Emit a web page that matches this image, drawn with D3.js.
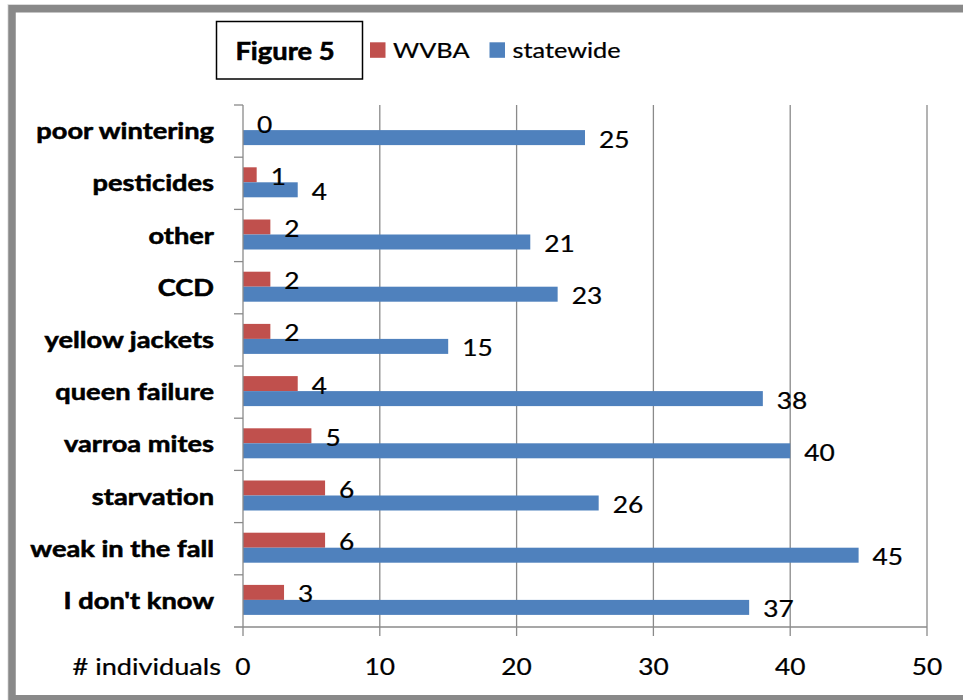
<!DOCTYPE html>
<html><head><meta charset="utf-8">
<script src="https://cdn.jsdelivr.net/npm/d3@7"></script>
<style>html,body{margin:0;padding:0;background:#fff;} svg{display:block;}</style>
</head><body><svg id="c" width="963" height="700"></svg>
<script>
// ---- data ----
const categories = ["poor wintering","pesticides","other","CCD","yellow jackets","queen failure","varroa mites","starvation","weak in the fall","I don't know"];
const wvba = [0,1,2,2,2,4,5,6,6,3];
const statewide = [25,4,21,23,15,38,40,26,45,37];
const seriesNames = ["WVBA","statewide"];
const seriesColors = ["#C0504D","#4F81BD"];
const xTicks = [0,10,20,30,40,50];
const axisTitle = "# individuals";
const figureTitle = "Figure 5";

// ---- layout ----
const FONT = "Lato, 'Open Sans', sans-serif";
const svg = d3.select("#c");
const W = 963, H = 700;
const plot = {left:243, right:927, top:105, bottom:627};

function txt(g, x, y, s, opts) {
  const bold = opts.weight === "bold";
  return g.append("text")
    .attr("transform", `translate(${x},${y}) scale(${opts.sx || 1},1)`)
    .attr("font-family", FONT)
    .attr("font-size", opts.size)
    .attr("font-weight", opts.weight || "normal")
    .attr("text-anchor", opts.anchor || "start")
    .attr("fill", "#000")
    .attr("stroke", "#000")
    .attr("stroke-width", bold ? 0.55 : 0.25)
    .text(s);
}

svg.append("rect").attr("width", W).attr("height", H).attr("fill", "#fff");
// frame
svg.append("rect").attr("x", 8).attr("y", 4.5).attr("width", 980).attr("height", 720)
  .attr("fill", "none").attr("stroke", "#dcdcdc").attr("stroke-width", 1);
svg.append("rect").attr("x", 12).attr("y", 8.75).attr("width", 970).attr("height", 690)
  .attr("fill", "none").attr("stroke", "#898989").attr("stroke-width", 7.5);

const x = d3.scaleLinear().domain([0, 50]).range([plot.left, plot.right]);
const y = d3.scaleBand().domain(categories).range([plot.top, plot.bottom]).padding(0);
const barH = 15;
const sub = d3.scaleBand().domain(seriesNames)
  .range([y.bandwidth()/2 - barH - 1, y.bandwidth()/2 + barH - 1]).padding(0);

// gridlines
svg.append("g").selectAll("line").data(xTicks.slice(1)).join("line")
  .attr("x1", d => x(d)).attr("x2", d => x(d))
  .attr("y1", plot.top).attr("y2", plot.bottom + 9)
  .attr("stroke", "#8a8a8a").attr("stroke-width", 1.3);

// bars
const seriesData = [wvba, statewide];
seriesNames.forEach((s, si) => {
  svg.append("g").selectAll("rect").data(categories).join("rect")
    .attr("x", x(0))
    .attr("y", c => y(c) + sub(s))
    .attr("width", (c, i) => x(seriesData[si][i]) - x(0))
    .attr("height", sub.bandwidth())
    .attr("fill", seriesColors[si]);
});

// axes
const ax = svg.append("g");
ax.append("line").attr("x1", x(0)).attr("x2", x(0)).attr("y1", plot.top).attr("y2", plot.bottom + 9)
  .attr("stroke", "#8a8a8a").attr("stroke-width", 1.3);
ax.append("line").attr("x1", x(0) - 9).attr("x2", plot.right).attr("y1", plot.bottom).attr("y2", plot.bottom)
  .attr("stroke", "#8a8a8a").attr("stroke-width", 1.3);
const yBounds = categories.map(c => y(c));
ax.selectAll("line.yt").data(yBounds).join("line").attr("class", "yt")
  .attr("x1", x(0) - 9).attr("x2", x(0)).attr("y1", d => d).attr("y2", d => d)
  .attr("stroke", "#8a8a8a").attr("stroke-width", 1.3);

// data labels (on top of all bars)
const lbl = svg.append("g");
seriesNames.forEach((s, si) => {
  categories.forEach((c, i) => {
    txt(lbl, x(seriesData[si][i]) + 14, y(c) + sub(s) + sub.bandwidth()/2 + 10,
      String(seriesData[si][i]), {size: 23.5, sx: 1.12});
  });
});

// x tick labels
xTicks.forEach(t => txt(ax, x(t), 675, String(t), {size: 23.5, anchor: "middle", sx: 1.12}));
txt(ax, 221, 675, axisTitle, {size: 23, anchor: "end", sx: 1.18});

// category labels
categories.forEach(c => txt(ax, 214, y(c) + y.bandwidth()/2 + 8, c, {size: 22.5, weight: "bold", anchor: "end", sx: 1.21}));

// legend
const lg = svg.append("g");
lg.append("rect").attr("x", 216.5).attr("y", 21.5).attr("width", 146).attr("height", 57.5)
  .attr("fill", "#fff").attr("stroke", "#000").attr("stroke-width", 1.5);
txt(lg, 285, 60, figureTitle, {size: 24, weight: "bold", anchor: "middle", sx: 1.14});
const legX = [370, 489.5];
seriesNames.forEach((s, i) => {
  lg.append("rect").attr("x", legX[i]).attr("y", 42.3).attr("width", 15.5).attr("height", 15.5).attr("fill", seriesColors[i]);
  txt(lg, legX[i] + 23, 57.7, s, {size: 22, sx: 1.15});
});
</script></body></html>
